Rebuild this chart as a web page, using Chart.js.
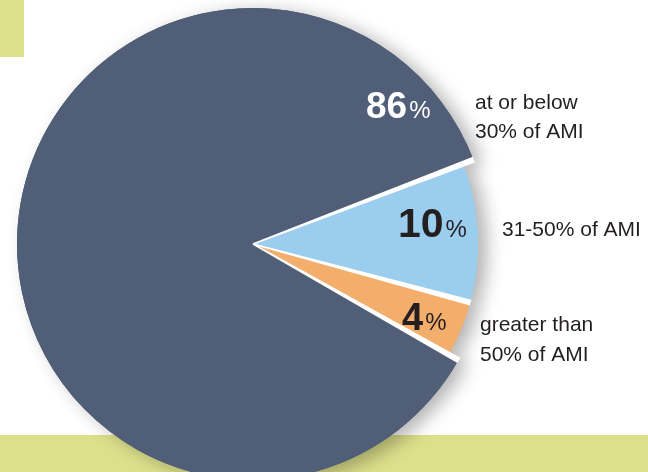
<!DOCTYPE html>
<html>
<head>
<meta charset="utf-8">
<script src="https://cdn.jsdelivr.net/npm/chart.js@4.4.1/dist/chart.umd.min.js"></script>
<style>
  html, body { margin: 0; padding: 0; width: 648px; height: 472px; overflow: hidden; background: #ffffff; }
  #bandTop { position: absolute; left: 0; top: 0; width: 24px; height: 57px; background: #dde08b; }
  #bandBottom { position: absolute; left: 0; top: 435px; width: 648px; height: 37px; background: #dde08b; }
  #wrap { position: absolute; left: 0; top: 0; width: 648px; height: 480px; }
</style>
</head>
<body>
<div id="bandTop"></div>
<div id="bandBottom"></div>
<div id="wrap"><canvas id="c" width="648" height="480"></canvas></div>
<script>
// ---- data ----
const categories = ["at or below\n30% of AMI", "31-50% of AMI", "greater than\n50% of AMI"];
const shares = [86, 10, 4];
const valueLabels = ["86", "10", "4"];
const sliceColors = ["#505e77", "#9acdee", "#f3ae6c"];

const FONT = '"Liberation Sans", Arial, Helvetica, sans-serif';
const INK = '#231f20';

// shadow pass under the pie
const shadowPlugin = {
  id: 'shadowPass',
  beforeDatasetsDraw(chart) {
    const ctx = chart.ctx;
    const meta = chart.getDatasetMeta(0);
    ctx.save();
    ctx.shadowColor = 'rgba(0,0,0,0.30)';
    ctx.shadowBlur = 18;
    ctx.shadowOffsetX = 9;
    ctx.shadowOffsetY = 4;
    meta.data.forEach(a => a.draw(ctx));
    ctx.restore();
  }
};

// smaller radius for the two minor slices
const radiusPlugin = {
  id: 'minorRadius',
  afterDatasetsUpdate(chart) {
    const meta = chart.getDatasetMeta(0);
    meta.data.forEach((a, i) => { if (i > 0) a.outerRadius = a.outerRadius * 0.953; });
  }
};

// white separators and texts
const decoPlugin = {
  id: 'deco',
  afterDatasetsDraw(chart) {
    const ctx = chart.ctx;
    const meta = chart.getDatasetMeta(0);
    const arcs = meta.data;
    const n = arcs.length;
    const cx = arcs[0].x, cy = arcs[0].y;
    ctx.save();
    ctx.fillStyle = '#ffffff';
    arcs.forEach((a, i) => {
      const prev = arcs[(i - 1 + n) % n];
      const t = a.startAngle;
      const ux = Math.cos(t), uy = Math.sin(t);
      const px = -uy, py = ux;
      const r2 = Math.max(a.outerRadius, prev.outerRadius) + 0.5;
      const w0 = 0.8, w1 = 3.0;
      ctx.beginPath();
      ctx.moveTo(cx + px * w0, cy + py * w0);
      ctx.lineTo(cx + ux * r2 + px * w1, cy + uy * r2 + py * w1);
      ctx.lineTo(cx + ux * r2 - px * w1, cy + uy * r2 - py * w1);
      ctx.lineTo(cx - px * w0, cy - py * w0);
      ctx.closePath();
      ctx.fill();
    });

    // value labels inside slices
    const vl = [
      { dx: 113, dy: -126, size: 37, pct: 24, color: '#ffffff' },
      { dx: 145, dy: -7, size: 41, pct: 24, color: INK },
      { dx: 149, dy: 86, size: 38, pct: 24, color: INK }
    ];
    ctx.textBaseline = 'alphabetic';
    ctx.textAlign = 'left';
    vl.forEach((v, i) => {
      ctx.fillStyle = v.color;
      ctx.font = 'bold ' + v.size + 'px ' + FONT;
      const x = cx + v.dx, y = cy + v.dy;
      ctx.fillText(valueLabels[i], x, y);
      const w = ctx.measureText(valueLabels[i]).width;
      ctx.font = v.pct + 'px ' + FONT;
      ctx.fillText('%', x + w + 2, y);
    });

    // category labels
    const cl = [
      { dx: 222, dy: -135, lh: 29 },
      { dx: 249, dy: -8, lh: 29 },
      { dx: 227, dy: 87, lh: 30 }
    ];
    ctx.fillStyle = INK;
    ctx.font = '21px ' + FONT;
    cl.forEach((c, i) => {
      categories[i].split('\n').forEach((line, k) => {
        ctx.fillText(line, cx + c.dx, cy + c.dy + k * c.lh);
      });
    });
    ctx.restore();
  }
};

new Chart(document.getElementById('c'), {
  type: 'pie',
  data: {
    labels: categories,
    datasets: [{
      data: shares,
      backgroundColor: sliceColors,
      borderWidth: 0,
      hoverOffset: 0
    }]
  },
  options: {
    responsive: false,
    animation: false,
    events: [],
    rotation: 119.5,
    layout: { padding: { left: 17, right: 159, top: 8, bottom: 0 } },
    plugins: { legend: { display: false }, tooltip: { enabled: false } }
  },
  plugins: [radiusPlugin, shadowPlugin, decoPlugin]
});
</script>
</body>
</html>
